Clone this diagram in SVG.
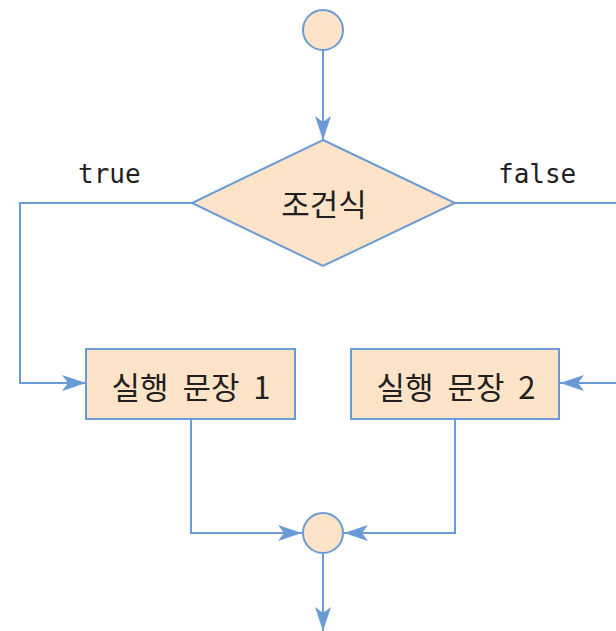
<svg xmlns="http://www.w3.org/2000/svg" width="616" height="631" viewBox="0 0 616 631">
<defs>
<style>
.node{fill:#FDE4C8;stroke:#6B9BD6;stroke-width:2}
.conn{fill:none;stroke:#6B9BD6;stroke-width:2}
.kr{font-family:"Noto Sans CJK KR","Noto Sans",sans-serif;font-size:31px;fill:#231F20;text-anchor:middle;dominant-baseline:central;word-spacing:7px}
.mono{font-family:"DejaVu Sans Mono","Liberation Mono",monospace;font-size:26px;fill:#231F20}
</style>
<marker id="arr" viewBox="0 0 24 16" refX="24" refY="8" markerWidth="24" markerHeight="16" markerUnits="userSpaceOnUse" orient="auto">
<path d="M0,0 L24,8 L0,16 L6,8 Z" fill="#6B9BD6"/>
</marker>
</defs>
<rect width="616" height="631" fill="#FFFFFF"/>
<g id="connectors">
<path class="conn" d="M323,50 V140" marker-end="url(#arr)"/>
<path class="conn" d="M192,203 H20 V383 H86" marker-end="url(#arr)"/>
<path class="conn" d="M455,203 H620 V383 H560" marker-end="url(#arr)"/>
<path class="conn" d="M191,419 V533 H302" marker-end="url(#arr)"/>
<path class="conn" d="M455,419 V533 H344" marker-end="url(#arr)"/>
<path class="conn" d="M323,553 V631" marker-end="url(#arr)"/>
</g>
<g id="start">
<circle class="node" cx="323" cy="30" r="20"/>
</g>
<g id="cond">
<polygon class="node" points="323,140 455,203 323,266 192,203"/>
<text class="kr" x="324" y="202">조건식</text>
</g>
<g id="label-true">
<text class="mono" x="78" y="183">true</text>
</g>
<g id="label-false">
<text class="mono" x="498" y="183">false</text>
</g>
<g id="stmt1">
<rect class="node" x="86" y="349" width="209" height="70"/>
<text class="kr" x="191" y="385">실행 문장 1</text>
</g>
<g id="stmt2">
<rect class="node" x="351" y="349" width="208" height="70"/>
<text class="kr" x="456" y="385">실행 문장 2</text>
</g>
<g id="end">
<circle class="node" cx="323" cy="533" r="20"/>
</g>
</svg>
